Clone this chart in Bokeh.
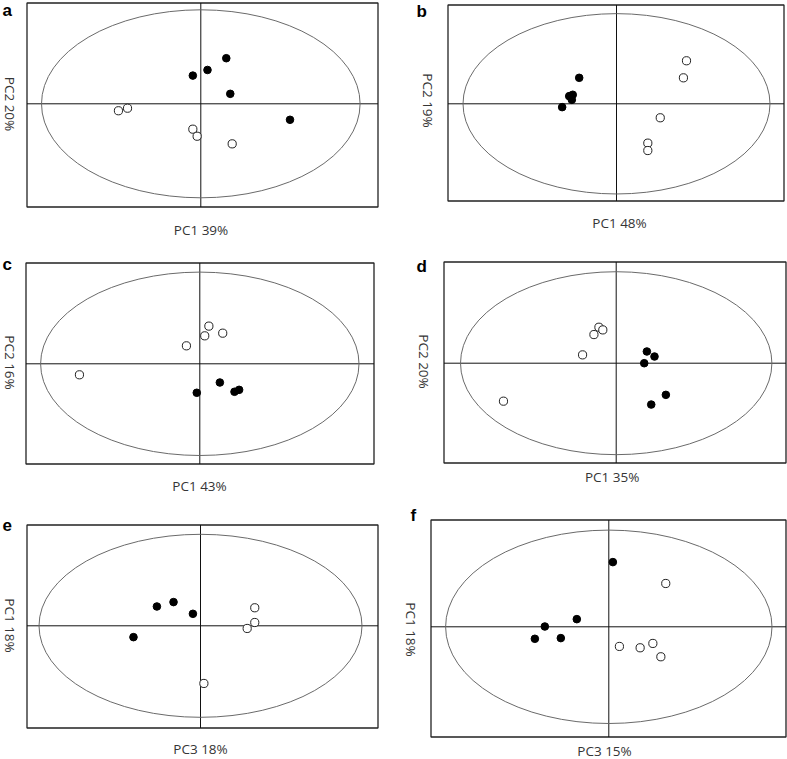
import math
from bokeh.plotting import figure
from bokeh.layouts import column, row
from bokeh.models import Range1d, Label
from bokeh.embed import file_html
from bokeh.resources import INLINE

# ---------------- data (scores scaled to the 95% ellipse, ellipse = unit radius) -------------
panel_letters = ["a", "b", "c", "d", "e", "f"]
x_titles = ["PC1 39%", "PC1 48%", "PC1 43%", "PC1 35%", "PC3 18%", "PC3 15%"]
y_titles = ["PC2 20%", "PC2 19%", "PC2 16%", "PC2 20%", "PC1 18%", "PC1 18%"]

a_filled_x = [-0.050, 0.042, 0.160, 0.185, 0.560]
a_filled_y = [0.300, 0.360, 0.485, 0.106, -0.170]
a_open_x = [-0.517, -0.460, -0.050, -0.023, 0.197]
a_open_y = [-0.074, -0.047, -0.270, -0.345, -0.426]

b_filled_x = [-0.243, -0.285, -0.308, -0.291, -0.354]
b_filled_y = [0.288, 0.100, 0.085, 0.044, -0.037]
b_open_x = [0.456, 0.436, 0.285, 0.204, 0.204]
b_open_y = [0.477, 0.288, -0.155, -0.436, -0.518]

c_filled_x = [0.126, -0.019, 0.218, 0.247]
c_filled_y = [-0.204, -0.316, -0.305, -0.284]
c_open_x = [0.057, 0.031, 0.144, -0.084, -0.756]
c_open_y = [0.411, 0.305, 0.334, 0.196, -0.120]

d_filled_x = [0.197, 0.246, 0.180, 0.319, 0.225]
d_filled_y = [0.128, 0.073, 0.000, -0.346, -0.452]
d_open_x = [-0.111, -0.086, -0.143, -0.216, -0.724]
d_open_y = [0.393, 0.364, 0.313, 0.091, -0.415]

e_filled_x = [-0.270, -0.167, -0.047, -0.415]
e_filled_y = [0.211, 0.259, 0.131, -0.124]
e_open_x = [0.336, 0.336, 0.289, 0.021]
e_open_y = [0.197, 0.036, -0.029, -0.630]

f_filled_x = [0.025, -0.196, -0.392, -0.453, -0.294]
f_filled_y = [0.669, 0.079, 0.003, -0.124, -0.117]
f_open_x = [0.349, 0.065, 0.192, 0.270, 0.319]
f_open_y = [0.448, -0.203, -0.217, -0.172, -0.310]

filled_x = [a_filled_x, b_filled_x, c_filled_x, d_filled_x, e_filled_x, f_filled_x]
filled_y = [a_filled_y, b_filled_y, c_filled_y, d_filled_y, e_filled_y, f_filled_y]
open_x = [a_open_x, b_open_x, c_open_x, d_open_x, e_open_x, f_open_x]
open_y = [a_open_y, b_open_y, c_open_y, d_open_y, e_open_y, f_open_y]

ellipse_rx = 1.0
ellipse_ry = 1.0

# ---------------- layout (reference pixel geometry) ----------------
S = 1.0
COL_OFF = [0, 400]
ROW_OFF = [0, 248, 500]
COL_W = [400, 387]
ROW_H = [248, 252, 259]

# box (L, R, T, B), crosshair (cx, cy), ellipse radii px (rx, ry),
# letter (x, middle), x title (center x, middle y), y title centre (x, y)
geom = [
    dict(frame=(26, 376.7, 1.7, 206), cross=(200.3, 103.3), rad=(159.3, 94.0),
         letter=(2, 9.5), xt=(200.5, 229.5), yt=(9, 103.5)),
    dict(frame=(447.3, 783.3, 4, 200.3), cross=(616.0, 103.3), rad=(153.5, 90.2),
         letter=(416, 11), xt=(619, 222.5), yt=(427.5, 100)),
    dict(frame=(24.7, 373.3, 261.7, 463.3), cross=(199.3, 363.3), rad=(159.2, 91.7),
         letter=(2, 263.5), xt=(199, 485.5), yt=(9, 362)),
    dict(frame=(443.3, 785, 261, 461.7), cross=(615.7, 362.7), rad=(155.7, 91.5),
         letter=(416, 265.7), xt=(611.7, 476.2), yt=(423, 361)),
    dict(frame=(25.7, 377, 523.7, 726.7), cross=(200.0, 625.3), rad=(161.5, 91.5),
         letter=(2, 524), xt=(200, 748), yt=(9, 625)),
    dict(frame=(429.7, 785, 519, 735.7), cross=(608.3, 626.3), rad=(163.2, 96.7),
         letter=(410, 515), xt=(604, 750.5), yt=(410, 629)),
]

TITLE_FONT = "Open Sans"
TITLE_SIZE = "13.5px"
TITLE_COLOR = "#353535"

figs = []
for i in range(6):
    r, c = divmod(i, 2)
    W, H = COL_W[c], ROW_H[r]
    g = geom[i]
    L, R, T, B = g["frame"]
    cx, cy = g["cross"]
    rx, ry = g["rad"]

    def fx(X):
        return S * X - COL_OFF[c]

    def fy(Y):
        return S * Y - ROW_OFF[r]

    cpx, cpy = fx(cx), fy(cy)
    sx, sy = S * rx, S * ry

    def dx(px):
        return (px - cpx) / sx

    def dy(py):
        return (cpy - py) / sy

    # whole figure is the frame; the visible panel box is drawn as a glyph
    x0, x1 = dx(0), dx(W)
    y0, y1 = dy(H), dy(0)
    bl, br = dx(round(fx(L)) + 0.5), dx(min(round(fx(R)), W - 2) + 0.5)
    bt, bb = dy(max(round(fy(T)), 1) + 0.5), dy(round(fy(B)) + 0.5)

    p = figure(width=W, height=H, x_range=Range1d(x0, x1), y_range=Range1d(y0, y1),
               x_axis_type=None, y_axis_type=None, toolbar_location=None,
               output_backend="svg", min_border=0)
    p.outline_line_color = None
    p.background_fill_color = "white"
    p.border_fill_color = "white"

    # panel box
    p.quad(left=[bl], right=[br], top=[bt], bottom=[bb], fill_color=None,
           line_color="#222222", line_width=1.3)
    # crosshair
    p.segment(x0=[bl, 0], y0=[0, bb], x1=[br, 0], y1=[0, bt],
              line_color="#111111", line_width=1)
    # confidence ellipse
    p.ellipse(x=[0], y=[0], width=[2 * ellipse_rx], height=[2 * ellipse_ry],
              fill_color=None, line_color="#6a6a6a", line_width=1)

    p.scatter(x=open_x[i], y=open_y[i], marker="circle", size=8.2,
              fill_color="white", line_color="#222222", line_width=1)
    p.scatter(x=filled_x[i], y=filled_y[i], marker="circle", size=7.6,
              fill_color="black", line_color="black", line_width=1)

    # panel letter
    lx, lm = g["letter"]
    p.add_layout(Label(x=x0, y=y0, x_offset=fx(lx), y_offset=H - fy(lm),
                       text=panel_letters[i], text_font="Liberation Sans",
                       text_font_style="bold", text_font_size="17px",
                       text_color="black", text_align="left", text_baseline="middle"))
    # x title
    tx, tm = g["xt"]
    p.add_layout(Label(x=x0, y=y0, x_offset=fx(tx), y_offset=H - fy(tm),
                       text=x_titles[i], text_font=TITLE_FONT, text_font_size=TITLE_SIZE,
                       text_color=TITLE_COLOR, text_align="center", text_baseline="middle"))
    # y title (rotated clockwise)
    yx, yy = g["yt"]
    p.add_layout(Label(x=x0, y=y0, x_offset=fx(yx), y_offset=H - fy(yy),
                       text=y_titles[i], text_font=TITLE_FONT, text_font_size=TITLE_SIZE,
                       text_color=TITLE_COLOR, text_align="center", text_baseline="middle",
                       angle=-math.pi / 2))
    figs.append(p)

layout = column(row(figs[0], figs[1]), row(figs[2], figs[3]), row(figs[4], figs[5]))
open("out.html", "w").write(file_html(layout, INLINE))
